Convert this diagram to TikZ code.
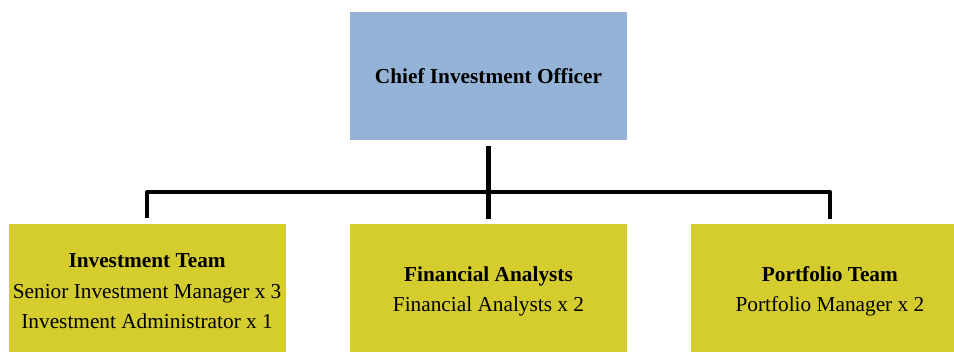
\documentclass[tikz,border=0pt]{standalone}
\usepackage{fontspec}
\setmainfont{Liberation Serif}
\usepackage{tikz}
\usetikzlibrary{positioning}
\definecolor{cioblue}{RGB}{149,179,215}
\definecolor{teamyellow}{RGB}{212,205,45}

\begin{document}
\begin{tikzpicture}[x=1pt,y=-1pt,node distance=84pt and 64pt,
      box/.style={rectangle,minimum width=277pt,minimum height=128pt,inner sep=0pt,
        align=center,font=\fontsize{21.3}{30.5}\selectfont},
      head/.style={box,fill=cioblue},
      team/.style={box,fill=teamyellow,minimum height=134pt},
      link/.style={line width=4.5pt,line join=round,shorten <=6pt,shorten >=5pt}]
    \useasboundingbox (0,0) rectangle (954,352);
    \node[head] (cio) at (488.5,76) {\textbf{Chief Investment Officer}};
    \node[team] (fin) [below = of cio] {\textbf{Financial Analysts}\\Financial Analysts x 2};
    \node[team] (inv) [left = of fin]
        {\textbf{Investment Team}\\Senior Investment Manager x 3\\Investment Administrator x 1};
    \node[team] (port) [right = of fin] {\textbf{Portfolio Team}\\Portfolio Manager x 2};
    \draw[link] (cio) -- (fin);
    \draw[link] (inv.north) -- ++(0,-32) -| (port.north);
\end{tikzpicture}
\end{document}
